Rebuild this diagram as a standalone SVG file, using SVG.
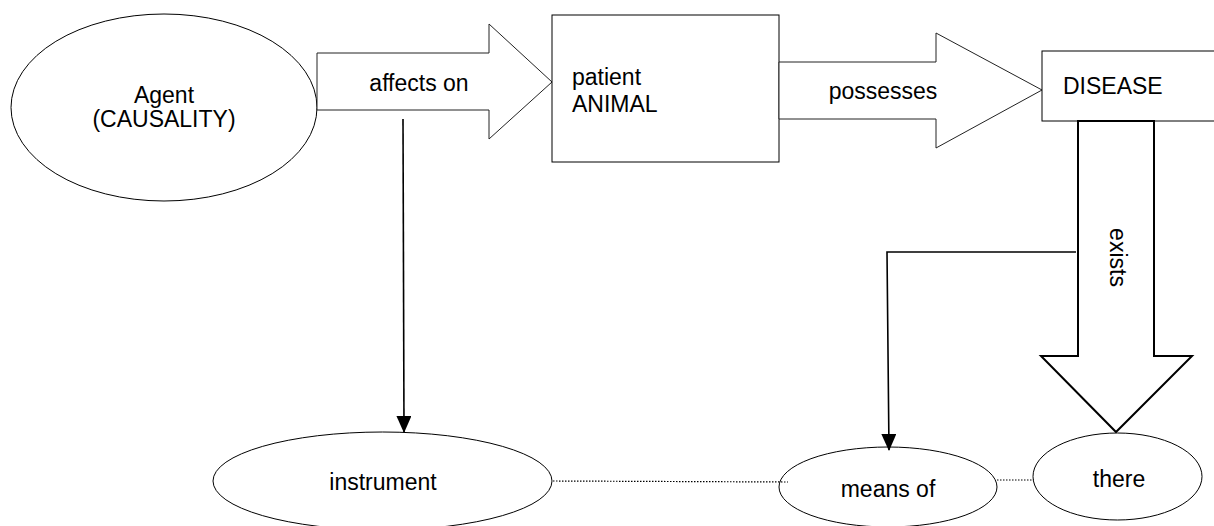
<svg xmlns="http://www.w3.org/2000/svg" width="1214" height="526" viewBox="0 0 1214 526">
  <defs>
    <style>
      .shape { fill: #ffffff; stroke: #000000; stroke-width: 1; }
      .bigarrow { fill: #ffffff; stroke: #222222; stroke-width: 1; }
      .thick { fill: #ffffff; stroke: #000000; stroke-width: 2; }
      .lbl { font-family: "Liberation Sans", Arial, sans-serif; font-size: 23px; fill: #000000; }
      .mid { text-anchor: middle; }
      .conn { fill: none; stroke: #000000; stroke-width: 1.6; }
      .dot { fill: none; stroke: #000000; stroke-width: 1.2; stroke-dasharray: 1.5 1.5; }
    </style>
    <marker id="ah" viewBox="0 0 17 15" refX="16" refY="7.5" markerWidth="17" markerHeight="15" markerUnits="userSpaceOnUse" orient="auto">
      <path d="M0,0 L17,7.5 L0,15 Z" fill="#000000"/>
    </marker>
  </defs>

  <rect width="1214" height="526" fill="#ffffff"/>

  <g id="agent">
    <ellipse class="shape" cx="164" cy="107.5" rx="153" ry="93.5"/>
    <text class="lbl mid" x="164" y="103">Agent</text>
    <text class="lbl mid" x="164" y="127">(CAUSALITY)</text>
  </g>

  <g id="affects">
    <polygon class="bigarrow" points="317,53 489,53 489,24 552,82 489,139 489,110 317,110"/>
    <text class="lbl mid" x="419" y="91">affects on</text>
  </g>

  <g id="patient">
    <rect class="shape" x="552" y="15" width="227" height="147"/>
    <text class="lbl" x="572" y="85">patient</text>
    <text class="lbl" x="572" y="112">ANIMAL</text>
  </g>

  <g id="possesses">
    <polygon class="bigarrow" points="779,62 936,62 936,33 1042,90 936,148 936,119 779,119"/>
    <text class="lbl mid" x="883" y="99">possesses</text>
  </g>

  <g id="disease">
    <rect class="shape" x="1042" y="51" width="190" height="70"/>
    <text class="lbl" x="1063" y="94">DISEASE</text>
  </g>

  <g id="exists">
    <polygon class="thick" points="1078,121 1154,121 1154,356 1192,356 1116,432 1041,356 1078,356"/>
    <text class="lbl mid" transform="translate(1110,257.5) rotate(90)" x="0" y="0">exists</text>
  </g>

  <g id="instrument">
    <ellipse class="shape" cx="382.5" cy="481" rx="169.5" ry="49"/>
    <text class="lbl mid" x="383" y="490">instrument</text>
  </g>

  <g id="meansof">
    <ellipse class="shape" cx="888" cy="487" rx="109" ry="40"/>
    <text class="lbl mid" x="888" y="497">means of</text>
  </g>

  <g id="there">
    <ellipse class="shape" cx="1117.5" cy="476.5" rx="84.5" ry="43.5"/>
    <text class="lbl mid" x="1119" y="487">there</text>
  </g>

  <g id="connectors">
    <line class="conn" x1="403" y1="119" x2="404" y2="432" marker-end="url(#ah)"/>
    <polyline class="conn" points="1076,252 887,252 889,450" marker-end="url(#ah)"/>
    <line class="dot" x1="553" y1="481" x2="788" y2="482"/>
    <line class="dot" x1="997" y1="480" x2="1034" y2="480"/>
  </g>
</svg>
